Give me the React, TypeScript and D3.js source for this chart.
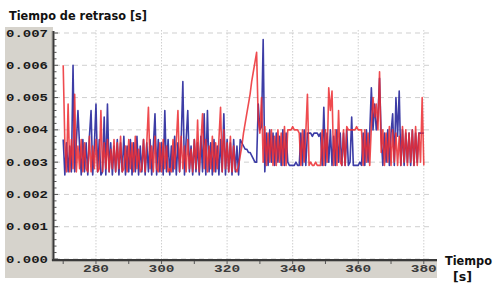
import React from 'react';
import * as d3 from 'd3';

// Delay samples in units of 1e-4 s, one every 0.5 s from t = 270 s
const startTime = 270;
const sampleStep = 0.5;

const redDelay = [
  60, 36, 27, 48, 27, 37, 28, 51, 27, 35,
  28, 37, 27, 36, 28, 27, 38, 27, 35, 28,
  37, 27, 28, 46, 27, 36, 28, 37, 27, 34,
  28, 37, 27, 36, 28, 38, 27, 28, 35, 27,
  37, 28, 36, 27, 38, 28, 34, 27, 28, 37,
  27, 36, 47, 28, 35, 27, 38, 28, 27, 36,
  27, 37, 28, 35, 27, 28, 27, 37, 28, 36,
  46, 27, 38, 28, 35, 27, 37, 28, 34, 27,
  37, 28, 43, 27, 36, 45, 28, 37, 27, 35,
  28, 38, 27, 36, 28, 37, 47, 27, 40, 28,
  36, 27, 38, 27, 35, 28, 27, 29, 32, 35,
  39, 42, 45, 48, 51, 55, 58, 61, 64, 43,
  39, 50, 30, 41, 29, 39, 30, 40, 29, 38,
  29, 40, 30, 39, 29, 41, 29, 40, 40, 40,
  41, 40, 40, 40, 39, 29, 40, 30, 39, 51,
  29, 30, 29, 29, 30, 29, 29, 29, 40, 29,
  40, 30, 53, 46, 52, 29, 40, 29, 46, 30,
  29, 40, 29, 41, 40, 40, 40, 40, 40, 41,
  40, 40, 40, 29, 40, 30, 39, 29, 41, 50,
  44, 48, 40, 58, 33, 40, 29, 39, 30, 41,
  29, 40, 30, 39, 29, 38, 29, 41, 30, 40,
  29, 39, 30, 40, 29, 41, 29, 39, 30, 50,
  29,
];

const blueDelay = [
  37, 26, 36, 27, 35, 27, 60, 27, 36, 46,
  35, 26, 37, 27, 36, 26, 38, 46, 26, 35,
  48, 27, 37, 26, 27, 44, 26, 48, 27, 36,
  26, 35, 27, 37, 26, 36, 27, 38, 26, 35,
  27, 37, 26, 36, 27, 38, 26, 35, 27, 37,
  26, 36, 27, 37, 26, 35, 45, 26, 37, 27,
  36, 26, 46, 27, 37, 26, 35, 27, 38, 26,
  36, 27, 37, 55, 26, 37, 46, 27, 35, 26,
  37, 27, 36, 26, 38, 27, 45, 26, 46, 27,
  36, 26, 37, 27, 35, 26, 37, 27, 45, 26,
  37, 27, 36, 26, 37, 27, 35, 26, 37, 36,
  35, 34, 34, 33, 33, 32, 31, 30, 30, 48,
  40, 41, 68, 27, 39, 29, 40, 30, 39, 29,
  39, 30, 38, 29, 40, 29, 39, 30, 29, 29,
  29, 29, 30, 29, 29, 39, 29, 40, 29, 39,
  39, 39, 38, 39, 39, 39, 38, 39, 29, 47,
  29, 39, 30, 40, 29, 38, 29, 40, 30, 39,
  29, 39, 29, 40, 29, 30, 44, 29, 29, 29,
  29, 30, 29, 39, 29, 40, 30, 39, 53, 40,
  48, 40, 44, 56, 38, 29, 39, 30, 40, 29,
  39, 45, 29, 50, 38, 52, 29, 40, 29, 39,
  30, 39, 29, 40, 29, 39, 30, 39, 39, 39,
  39,
];

const yTicks = [0, 10, 20, 30, 40, 50, 60, 70];
const xTicks = [280, 300, 320, 340, 360, 380];
const xMinorTicks = [270, 290, 310, 330, 350, 370];

const W = 496;
const H = 284;
const plot = { left: 55, right: 432, top: 33, bottom: 259 };

const x = d3.scaleLinear().domain([267.5, 382.5]).range([plot.left, plot.right]);
const y = d3.scaleLinear().domain([0, 70]).range([plot.bottom, plot.top]);

const line = d3
  .line<number>()
  .x((_, i) => x(startTime + i * sampleStep))
  .y((d) => y(d));

const fmt = (v: number) => (v / 10000).toFixed(3);
const minorY = d3.range(0, 70.1, 2);

export default function App() {
  return (
    <svg
      width={W}
      height={H}
      style={{ position: 'absolute', left: 0, top: 0, background: '#fff' }}
    >
      {/* gray frame */}
      <rect x={5} y={27} width={48} height={251} fill="#d6d3cc" />
      <rect x={5} y={260} width={432} height={18} fill="#d6d3cc" />

      <text
        x={9}
        y={20}
        fontFamily="DejaVu Sans"
        fontWeight="bold"
        fontSize={12.5}
        textLength={138}
        lengthAdjust="spacingAndGlyphs"
        fill="#111"
      >
        Tiempo de retraso [s]
      </text>

      {/* grid */}
      {yTicks.map((t) => (
        <line
          key={'gy' + t}
          x1={plot.left}
          x2={plot.right + 1}
          y1={y(t)}
          y2={y(t)}
          stroke="#cfcfcf"
          strokeDasharray="5,4"
        />
      ))}
      {xTicks.map((t) => (
        <line
          key={'gx' + t}
          x1={x(t)}
          x2={x(t)}
          y1={plot.top - 3}
          y2={plot.bottom}
          stroke="#cfcfcf"
          strokeDasharray="1.5,1.5"
        />
      ))}

      {/* series */}
      <path d={line(blueDelay) ?? ''} fill="none" stroke="#2c2c9e" strokeWidth={1.6} strokeOpacity={0.92} strokeLinejoin="round" />
      <path d={line(redDelay) ?? ''} fill="none" stroke="#ec2c30" strokeWidth={1.6} strokeOpacity={0.85} strokeLinejoin="round" />

      {/* left axis */}
      <line x1={52} x2={52} y1={plot.top - 2} y2={plot.bottom + 2} stroke="#a8a6a0" strokeWidth={1} />
      <line x1={53.5} x2={53.5} y1={plot.top - 2} y2={plot.bottom + 1} stroke="#3a3a3a" strokeWidth={2} />
      {minorY.map((t) => (
        <line
          key={'my' + t}
          x1={54}
          x2={t % 10 === 0 ? 58 : 56.5}
          y1={y(t)}
          y2={y(t)}
          stroke="#555"
        />
      ))}
      {yTicks.map((t) => (
        <text
          key={'ly' + t}
          x={6}
          y={y(t) + 3.5}
          fontFamily="Liberation Mono"
          fontWeight="bold"
          fontSize={10}
          textLength={42}
          lengthAdjust="spacingAndGlyphs"
          fill="#1a1a1a"
        >
          {fmt(t)}
        </text>
      ))}

      {/* bottom axis */}
      <line x1={52} x2={437} y1={plot.bottom + 1} y2={plot.bottom + 1} stroke="#3a3a3a" strokeWidth={2} />
      <line x1={52} x2={437} y1={plot.bottom + 2.5} y2={plot.bottom + 2.5} stroke="#a8a6a0" strokeWidth={1} />
      {[...xTicks, ...xMinorTicks].map((t) => (
        <line
          key={'tx' + t}
          x1={x(t)}
          x2={x(t)}
          y1={plot.bottom + 2}
          y2={plot.bottom + 5}
          stroke="#555"
        />
      ))}
      {xTicks.map((t) => (
        <text
          key={'lx' + t}
          x={x(t) - 13}
          y={272}
          fontFamily="Liberation Mono"
          fontWeight="bold"
          fontSize={10}
          textLength={26}
          lengthAdjust="spacingAndGlyphs"
          fill="#3a3a3a"
        >
          {t}
        </text>
      ))}

      <text x={445} y={265} fontFamily="DejaVu Sans" fontWeight="bold" fontSize={12.5} textLength={47} lengthAdjust="spacingAndGlyphs" fill="#111">
        Tiempo
      </text>
      <text x={453} y={281} fontFamily="DejaVu Sans" fontWeight="bold" fontSize={12.5} textLength={19} lengthAdjust="spacingAndGlyphs" fill="#111">
        [s]
      </text>
    </svg>
  );
}
